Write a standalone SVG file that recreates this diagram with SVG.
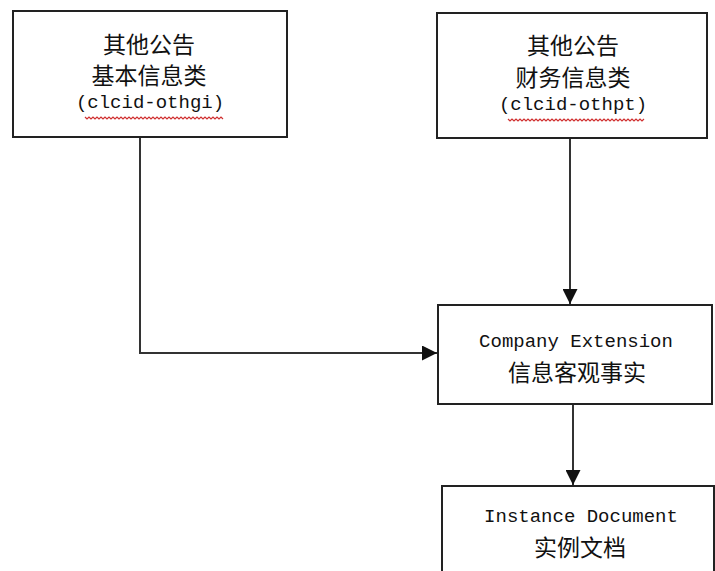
<svg xmlns="http://www.w3.org/2000/svg" width="715" height="571" viewBox="0 0 715 571">
<style>
.box{fill:#fff;stroke:#222;stroke-width:2}
.cn{font-family:"Noto Sans CJK SC","Noto Sans",sans-serif;font-size:23px;fill:#111;text-anchor:middle}
.en{font-family:"Liberation Mono","DejaVu Sans Mono",monospace;font-size:19px;fill:#111;text-anchor:middle}
.conn{fill:none;stroke:#333;stroke-width:2}
.squig{fill:none;stroke:#d03030;stroke-width:1.2}
</style>
<defs>
<marker id="arr" viewBox="0 0 10 10" refX="10" refY="5" markerWidth="15" markerHeight="15" markerUnits="userSpaceOnUse" orient="auto">
<path d="M0,0 L10,5 L0,10 Z" fill="#111"/>
</marker>
</defs>
<rect width="715" height="571" fill="#fff"/>
<g id="connectors">
<path class="conn" d="M140,137 V353 H437" marker-end="url(#arr)"/>
<path class="conn" d="M570,138 V304" marker-end="url(#arr)"/>
<path class="conn" d="M573,404 V485" marker-end="url(#arr)"/>
</g>
<g id="node-othgi">
<rect class="box" x="13" y="11" width="274" height="126"/>
<text class="cn" x="149" y="53">其他公告</text>
<text class="cn" x="149" y="84">基本信息类</text>
<text class="en" x="150" y="108">(clcid-othgi)</text>
<path class="squig" d="M85,117 l2,2 l2,-2 l2,2 l2,-2 l2,2 l2,-2 l2,2 l2,-2 l2,2 l2,-2 l2,2 l2,-2 l2,2 l2,-2 l2,2 l2,-2 l2,2 l2,-2 l2,2 l2,-2 l2,2 l2,-2 l2,2 l2,-2 l2,2 l2,-2 l2,2 l2,-2 l2,2 l2,-2 l2,2 l2,-2 l2,2 l2,-2 l2,2 l2,-2 l2,2 l2,-2 l2,2 l2,-2 l2,2 l2,-2 l2,2 l2,-2 l2,2 l2,-2 l2,2 l2,-2 l2,2 l2,-2 l2,2 l2,-2 l2,2 l2,-2 l2,2 l2,-2 l2,2 l2,-2 l2,2 l2,-2 l2,2 l2,-2 l2,2 l2,-2 l2,2 l2,-2 l2,2 l2,-2 l2,2"/>
</g>
<g id="node-othpt">
<rect class="box" x="437" y="13" width="270" height="125"/>
<text class="cn" x="573" y="54">其他公告</text>
<text class="cn" x="573" y="86">财务信息类</text>
<text class="en" x="573" y="110">(clcid-othpt)</text>
<path class="squig" d="M508,119 l2,2 l2,-2 l2,2 l2,-2 l2,2 l2,-2 l2,2 l2,-2 l2,2 l2,-2 l2,2 l2,-2 l2,2 l2,-2 l2,2 l2,-2 l2,2 l2,-2 l2,2 l2,-2 l2,2 l2,-2 l2,2 l2,-2 l2,2 l2,-2 l2,2 l2,-2 l2,2 l2,-2 l2,2 l2,-2 l2,2 l2,-2 l2,2 l2,-2 l2,2 l2,-2 l2,2 l2,-2 l2,2 l2,-2 l2,2 l2,-2 l2,2 l2,-2 l2,2 l2,-2 l2,2 l2,-2 l2,2 l2,-2 l2,2 l2,-2 l2,2 l2,-2 l2,2 l2,-2 l2,2 l2,-2 l2,2 l2,-2 l2,2 l2,-2 l2,2 l2,-2 l2,2 l2,-2"/>
</g>
<g id="node-company">
<rect class="box" x="438" y="305" width="274" height="99"/>
<text class="en" x="576" y="347" font-size="20">Company Extension</text>
<text class="cn" x="577" y="381">信息客观事实</text>
</g>
<g id="node-instance">
<rect class="box" x="442" y="486" width="272" height="95"/>
<text class="en" x="581" y="522" font-size="20">Instance Document</text>
<text class="cn" x="580" y="556">实例文档</text>
</g>
</svg>
